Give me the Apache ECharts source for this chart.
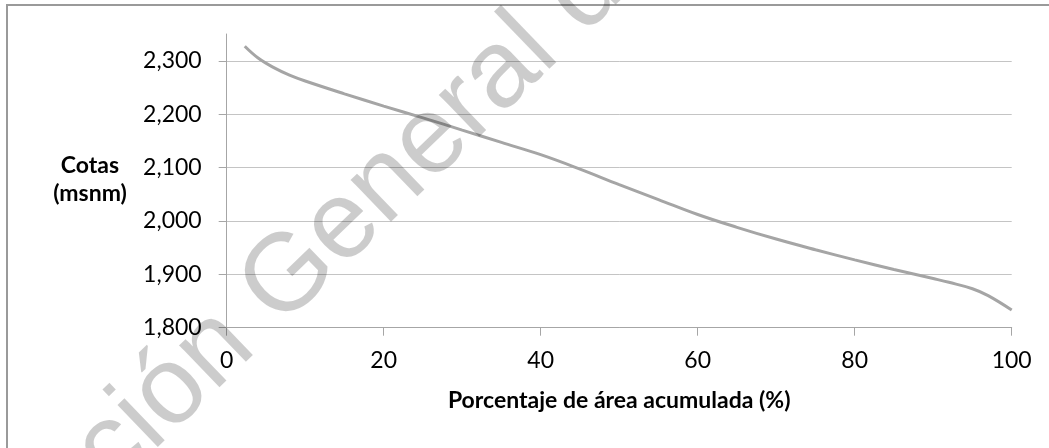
<!DOCTYPE html>
<html>
<head>
<meta charset="utf-8">
<script src="https://cdn.jsdelivr.net/npm/echarts@6/dist/echarts.min.js"></script>
<style>
html,body{margin:0;padding:0;background:#fff;}
#wrap{position:absolute;left:0;top:0;width:1049px;height:448px;overflow:hidden;}
#frame{position:absolute;left:6px;top:4px;width:1100px;height:500px;border-left:2px solid #9a9a9a;border-top:2px solid #9a9a9a;}
#chart{position:absolute;left:0;top:0;width:1049px;height:448px;}
</style>
</head>
<body>
<div id="wrap">
<div id="frame"></div>
<div id="chart"></div>
</div>
<script>
// Porcentaje de área acumulada (%)
const areaPct = [2.3, 4, 6, 8, 10, 15, 20, 25, 30, 35, 40, 45, 50, 55, 60, 65, 70, 75, 80, 85, 90, 92, 95, 97, 100];
// Cotas (msnm)
const cotas = [2327, 2305, 2287, 2273, 2262, 2238, 2215, 2193, 2170, 2147, 2124, 2097, 2068, 2040, 2012, 1988, 1966, 1946, 1927, 1909, 1892, 1885, 1873, 1860, 1833];
const xTicks = [0, 20, 40, 60, 80, 100];
const yTicks = [1800, 1900, 2000, 2100, 2200, 2300];
const xTitle = 'Porcentaje de área acumulada (%)';
const yTitle = 'Cotas\n(msnm)';
const watermarkA = 'Dirección ';
const watermarkB = 'General de Bibliotecas';

const FONT = 'Lato';
const pts = areaPct.map((p, i) => [p, cotas[i]]);
const fmt = v => v.toLocaleString('en-US');

const chart = echarts.init(document.getElementById('chart'), null, {renderer: 'canvas'});
const gridL = 226.7, gridR = 1049 - 1011.7, gridB = 448 - 327.7;
const angle = 44 * Math.PI / 180;
chart.setOption({
  animation: false,
  backgroundColor: 'transparent',
  grid: [
    {left: gridL, right: gridR, top: 34, bottom: gridB},
    {left: gridL, right: gridR, top: 61, bottom: gridB}
  ],
  xAxis: [
    {
      gridIndex: 0, type: 'value', min: xTicks[0], max: xTicks[xTicks.length - 1], interval: xTicks[1] - xTicks[0],
      axisLine: {show: true, lineStyle: {color: '#a6a6a6', width: 1}},
      axisTick: {show: true, inside: false, length: 8, lineStyle: {color: '#a6a6a6'}},
      axisLabel: {show: true, margin: 21, color: '#000', fontFamily: FONT, fontSize: 23},
      splitLine: {show: false},
      name: xTitle, nameLocation: 'middle', nameGap: 61,
      nameTextStyle: {color: '#000', fontFamily: FONT, fontSize: 23, fontWeight: 'bold'}
    },
    {
      gridIndex: 1, type: 'value', min: xTicks[0], max: xTicks[xTicks.length - 1], show: false
    }
  ],
  yAxis: [
    {
      gridIndex: 0, type: 'value', min: 1800, max: 2350,
      axisLine: {show: true, lineStyle: {color: '#a6a6a6', width: 1}},
      axisTick: {show: false}, axisLabel: {show: false}, splitLine: {show: false}
    },
    {
      gridIndex: 1, type: 'value', min: yTicks[0], max: yTicks[yTicks.length - 1], interval: yTicks[1] - yTicks[0],
      axisLine: {show: false},
      axisTick: {show: true, inside: false, length: 8, lineStyle: {color: '#a6a6a6'}},
      axisLabel: {show: true, margin: 25, color: '#000', fontFamily: FONT, fontSize: 23, formatter: fmt},
      splitLine: {show: true, lineStyle: {color: '#c4c4c4', width: 1}}
    }
  ],
  series: [{
    type: 'line', xAxisIndex: 0, yAxisIndex: 0, data: pts, smooth: 0.4, showSymbol: false,
    lineStyle: {color: '#a5a5a5', width: 3}, z: 5
  }],
  graphic: [
    {
      type: 'text', x: 90, y: 180, z: 10,
      style: {text: yTitle, fill: '#000', font: 'bold 23px ' + FONT, align: 'center', verticalAlign: 'middle', lineHeight: 28}
    },
    {
      type: 'text', x: 259, y: 307, rotation: angle, z: 100, silent: true,
      style: {text: watermarkB, fill: 'rgba(0,0,0,0.2)', font: '110px "Liberation Sans"', align: 'left', verticalAlign: 'middle'}
    },
    {
      type: 'text', x: 259, y: 307, rotation: angle, z: 100, silent: true,
      style: {text: watermarkA, fill: 'rgba(0,0,0,0.2)', font: '110px "Liberation Sans"', align: 'right', verticalAlign: 'middle'}
    }
  ]
});
</script>
</body>
</html>
